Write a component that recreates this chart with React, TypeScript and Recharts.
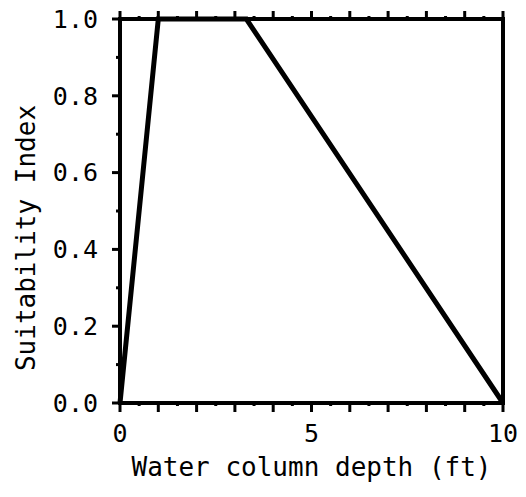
import { LineChart, Line, XAxis, YAxis } from 'recharts';

// suitability curve: depth (ft) vs index
const depths = [0, 1, 3.3, 10];
const suitability = [0, 1, 1, 0];

const xTicks = [0, 0.5, 1, 1.5, 2, 2.5, 3, 3.5, 4, 4.5, 5, 5.5, 6, 6.5, 7, 7.5, 8, 8.5, 9, 9.5, 10];
const xLabelTicks = [0, 5, 10];
const yTicks = [0, 0.1, 0.2, 0.3, 0.4, 0.5, 0.6, 0.7, 0.8, 0.9, 1.0];

const data = depths.map((d, i) => ({ depth: d, si: suitability[i] }));

const FONT = '"DejaVu Sans Mono", "Liberation Mono", monospace';
const axisLine = { stroke: '#000', strokeWidth: 4, strokeLinecap: 'square' as const };

const isInt = (v: number) => Math.abs(v - Math.round(v)) < 1e-6;
const isMajorY = (v: number) => Math.round(v * 10) % 2 === 0;

function BottomTick({ x, y, payload }: any) {
  const v = payload.value;
  const len = isInt(v) ? 9 : 3;
  return (
    <g>
      <line x1={x} x2={x} y1={y} y2={y + len} stroke="#000" strokeWidth={3} />
      {xLabelTicks.includes(v) && (
        <text x={x} y={y + 21} dy="0.71em" textAnchor="middle" fontFamily={FONT} fontSize={25} fill="#000">
          {v}
        </text>
      )}
    </g>
  );
}

function TopTick({ x, y, payload }: any) {
  const len = isInt(payload.value) ? 8 : 3;
  return <line x1={x} x2={x} y1={y} y2={y - len} stroke="#000" strokeWidth={3} />;
}

function LeftTick({ x, y, payload }: any) {
  const v = payload.value;
  const major = isMajorY(v);
  const len = major ? 8 : 4;
  return (
    <g>
      <line x1={x} x2={x - len} y1={y} y2={y} stroke="#000" strokeWidth={3} />
      {major && (
        <text x={x - 22} y={y} dy="0.355em" textAnchor="end" fontFamily={FONT} fontSize={25} fill="#000">
          {v.toFixed(1)}
        </text>
      )}
    </g>
  );
}

function RightTick({ x, y, payload }: any) {
  const len = isMajorY(payload.value) ? 10 : 5;
  return <line x1={x} x2={x + len} y1={y} y2={y} stroke="#000" strokeWidth={3} />;
}

export default function App() {
  return (
    <div style={{ position: 'absolute', left: 0, top: 0, background: '#fff' }}>
      <LineChart width={526} height={497} data={data} margin={{ top: 18, right: 22, bottom: 0, left: 0 }}>
        <XAxis
          xAxisId="bottom"
          dataKey="depth"
          type="number"
          domain={[0, 10]}
          ticks={xTicks}
          interval={0}
          tickSize={0}
          tickMargin={0}
          height={94}
          axisLine={axisLine}
          tickLine={false}
          tick={BottomTick}
          label={{
            content: (p: any) => (
              <text
                x={p.viewBox.x + p.viewBox.width / 2}
                y={p.viewBox.y + 73}
                textAnchor="middle"
                fontFamily={FONT}
                fontSize={26}
                fill="#000"
              >
                Water column depth (ft)
              </text>
            ),
          }}
        />
        <XAxis
          xAxisId="top"
          orientation="top"
          dataKey="depth"
          type="number"
          domain={[0, 10]}
          ticks={xTicks}
          interval={0}
          tickSize={0}
          tickMargin={0}
          height={1}
          axisLine={axisLine}
          tickLine={false}
          tick={TopTick}
        />
        <YAxis
          yAxisId="left"
          type="number"
          domain={[0, 1]}
          ticks={yTicks}
          interval={0}
          tickSize={0}
          tickMargin={0}
          width={120}
          axisLine={axisLine}
          tickLine={false}
          tick={LeftTick}
          label={{
            content: (p: any) => (
              <text
                transform={`translate(26, ${p.viewBox.y + p.viewBox.height / 2 + 27}) rotate(-90)`}
                dy="0.355em"
                textAnchor="middle"
                fontFamily={FONT}
                fontSize={26}
                fill="#000"
              >
                Suitability Index
              </text>
            ),
          }}
        />
        <YAxis
          yAxisId="right"
          orientation="right"
          type="number"
          domain={[0, 1]}
          ticks={yTicks}
          interval={0}
          tickSize={0}
          tickMargin={0}
          width={1}
          axisLine={axisLine}
          tickLine={false}
          tick={RightTick}
        />
        <Line
          xAxisId="bottom"
          yAxisId="left"
          type="linear"
          dataKey="si"
          stroke="#000"
          strokeWidth={5}
          dot={false}
          isAnimationActive={false}
        />
      </LineChart>
    </div>
  );
}
